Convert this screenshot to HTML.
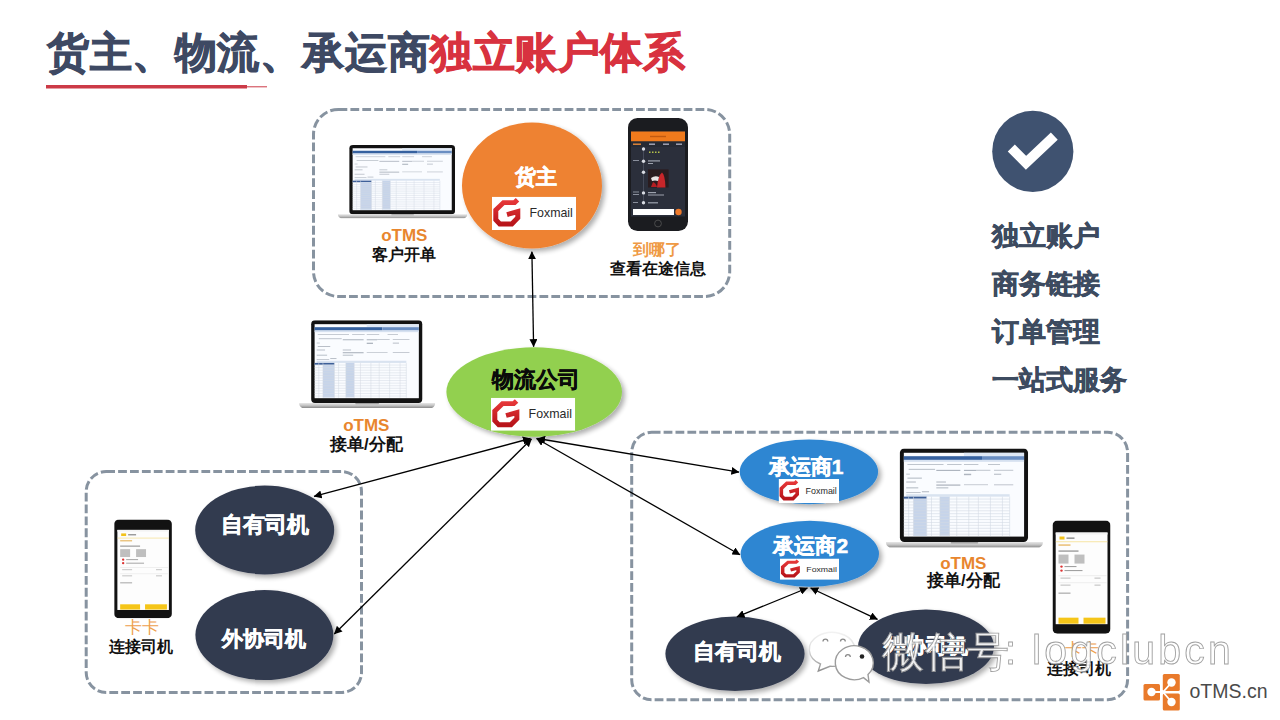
<!DOCTYPE html>
<html><head><meta charset="utf-8">
<style>
html,body{margin:0;padding:0;background:#fff;width:1280px;height:720px;overflow:hidden}
svg{position:absolute;left:0;top:0;font-family:"Liberation Sans",sans-serif}
</style></head><body>
<svg width="1280" height="720" viewBox="0 0 1280 720">
<defs>
  <filter id="sh" x="-20%" y="-20%" width="150%" height="150%">
    <feGaussianBlur in="SourceAlpha" stdDeviation="2.5"/>
    <feOffset dx="2.5" dy="3" result="b"/>
    <feComponentTransfer><feFuncA type="linear" slope="0.32"/></feComponentTransfer>
    <feMerge><feMergeNode/><feMergeNode in="SourceGraphic"/></feMerge>
  </filter>
  <marker id="ah" viewBox="0 0 10 10" refX="9.5" refY="5" markerWidth="8" markerHeight="8" markerUnits="userSpaceOnUse" orient="auto-start-reverse">
    <path d="M0,0 L10,5 L0,10 z" fill="#000"/>
  </marker>
  <linearGradient id="silver" x1="0" y1="0" x2="0" y2="1">
    <stop offset="0" stop-color="#e8e8e8"/><stop offset="0.5" stop-color="#c4c4c4"/><stop offset="1" stop-color="#8a8a8a"/>
  </linearGradient>
  <linearGradient id="gred" x1="0" y1="0" x2="0" y2="1">
    <stop offset="0" stop-color="#e8393a"/><stop offset="1" stop-color="#b8141a"/>
  </linearGradient>
  <!-- laptop symbol: viewBox 0 0 160 102 -->
  <symbol id="laptop" viewBox="0 0 160 102" preserveAspectRatio="none">
  <rect x="14.5" y="0" width="130" height="96" rx="4.5" fill="#121212"/>
  <rect x="18.5" y="4.5" width="122" height="86" fill="#fafcff"/>
  <rect x="79.5" y="4.5" width="61.0" height="3.5" fill="#dfe8f5"/>
  <rect x="18.5" y="8" width="79.3" height="3.8" fill="#36619f"/>
  <rect x="97.8" y="8" width="42.699999999999996" height="3.8" fill="#6a8ec2"/>
  <rect x="18.5" y="11.8" width="122" height="2" fill="#d6e1f0"/>
  <g fill="#aeb5bf"><rect x="22.16" y="16" width="36.6" height="0.8"/><rect x="62.42" y="16" width="14.64" height="0.8"/><rect x="79.5" y="16" width="14.64" height="0.8"/><rect x="103.9" y="16" width="12.2" height="0.8"/><rect x="23.38" y="21" width="26.84" height="0.9"/><rect x="51.44" y="22" width="24.4" height="1.2"/><rect x="79.5" y="22" width="12.2" height="1.2"/><rect x="91.7" y="22" width="14.64" height="0.8"/><rect x="110.0" y="22" width="19.52" height="0.8"/><rect x="20.94" y="26" width="3.66" height="0.8"/><rect x="79.5" y="26" width="7.32" height="1.5"/><rect x="110.0" y="26" width="7.32" height="1"/><rect x="22.16" y="30" width="14.64" height="1"/><rect x="20.94" y="34" width="9.76" height="1"/><rect x="51.44" y="34" width="9.76" height="1"/><rect x="51.44" y="37" width="24.4" height="1.3"/><rect x="79.5" y="37" width="24.4" height="0.7"/><rect x="110.0" y="37" width="19.52" height="0.8"/><rect x="20.94" y="40" width="12.2" height="1"/><rect x="51.44" y="40" width="12.2" height="1"/><rect x="20.94" y="45" width="14.64" height="0.8"/><rect x="36.8" y="44" width="7.32" height="1"/></g>
  <rect x="20.94" y="47" width="104.92" height="2.5" fill="#d9e3f0"/>
  <rect x="18.5" y="49.5" width="23.18" height="2.2" fill="#3d5f98"/>
  <rect x="28.26" y="51.7" width="13.42" height="38" fill="#c6d4ea"/>
  <rect x="55.1" y="49.5" width="9.76" height="40" fill="#c6d4ea"/>
  <path d="M18.5 52H125.86 M18.5 55H125.86 M18.5 58H125.86 M18.5 61H125.86 M18.5 64H125.86 M18.5 67H125.86 M18.5 70H125.86 M18.5 73H125.86 M18.5 76H125.86 M18.5 79H125.86 M18.5 82H125.86 M18.5 85H125.86 M18.5 88H125.86" stroke="#d3dae4" stroke-width="0.6"/>
  <path d="M23.38 49.5V90 M28.26 49.5V90 M41.68 49.5V90 M46.56 49.5V90 M55.1 49.5V90 M64.86 49.5V90 M72.18 49.5V90 M84.38 49.5V90 M94.14 49.5V90 M106.34 49.5V90 M118.54 49.5V90 M125.86 49.5V90" stroke="#d3dae4" stroke-width="0.6"/>
  <path d="M0.5 96 H159.5 Q160 99.5 156 101.8 H4 Q0 99.5 0.5 96z" fill="url(#silver)"/>
  <rect x="66" y="96" width="28" height="1.6" rx="0.8" fill="#a0a0a0"/>
  </symbol>
  <!-- foxmail box: 84 x 34 -->
  <symbol id="fox" viewBox="0 0 84 34" preserveAspectRatio="none">
    <rect x="0" y="0" width="84" height="34" fill="#fff"/>
    <path d="M25.5 3.2 L22.6 6 L11.5 6 L3.8 13.6 L3.8 23.5 L7.8 27.8 L19.8 27.8 L25.8 21.5 L25.8 15.2 L15 18.2" fill="none" stroke="url(#gred)" stroke-width="5" stroke-linejoin="miter" stroke-miterlimit="10"/>
    <text x="37.5" y="21.2" font-size="12.4" fill="#2a2a2a">Foxmail</text>
  </symbol>
  <!-- iphone -->
  <symbol id="iphone" viewBox="0 0 60 113" preserveAspectRatio="none">
    <rect x="0" y="0" width="60" height="113" rx="9.5" fill="#1b1c20"/>
    <rect x="3" y="13.5" width="54" height="85" fill="#2b2f3b"/>
    <rect x="3" y="13.5" width="54" height="10" fill="#f07a1c"/>
    <rect x="22" y="17.8" width="16" height="1.4" fill="#c25a10"/>
    <rect x="3" y="23.5" width="54" height="5.5" fill="#262a34"/>
    <rect x="5" y="25.5" width="8" height="1.4" fill="#e98a3a"/>
    <rect x="21" y="25.5" width="6" height="1.4" fill="#aab"/>
    <rect x="35" y="25.5" width="6" height="1.4" fill="#aab"/>
    <rect x="48" y="25.5" width="6" height="1.4" fill="#aab"/>
    <line x1="15.5" y1="29" x2="15.5" y2="86" stroke="#4a4f5e" stroke-width="0.9"/>
    <g fill="#d8dbe2"><circle cx="15.5" cy="31" r="1.7"/><circle cx="15.5" cy="43.3" r="1.7"/><circle cx="15.5" cy="54.2" r="1.7"/><circle cx="15.5" cy="74.9" r="1.7"/><circle cx="15.5" cy="84.8" r="1.7"/></g>
    <g fill="#8a8f9c"><rect x="5" y="42" width="6" height="1"/><rect x="5" y="73.5" width="6" height="1"/><rect x="5" y="76" width="6" height="1"/><rect x="5" y="84" width="5" height="1"/></g>
    <g fill="#9da2ae"><rect x="20" y="42.3" width="12" height="1.2"/><rect x="20" y="45" width="5" height="1"/><rect x="20" y="74" width="8" height="1.2"/><rect x="20" y="76.5" width="16" height="1"/><rect x="20" y="84.2" width="10" height="1.2"/></g>
    <g fill="#b6c44a"><rect x="21" y="33.5" width="1.5" height="1.5"/><rect x="24" y="33.5" width="1.5" height="1.5"/><rect x="27" y="33.5" width="1.5" height="1.5"/><rect x="30" y="33.5" width="1.5" height="1.5"/></g>
    <rect x="20" y="51.4" width="20.6" height="18.1" fill="#2a1c1f"/>
    <path d="M29 69.5 q1 -12 5 -15 q3 2 3.5 15z" fill="#c8262a"/>
    <path d="M23 60 q4 -3 8 -1 l-1 4 q-3 -1 -6 0z" fill="#e9e4e4"/>
    <path d="M25 64 q3 1 4 5 h-6z" fill="#b51e22"/>
    <rect x="5" y="91" width="41" height="6" fill="#fff"/>
    <circle cx="50.5" cy="94" r="3.2" fill="#ef7a2a"/>
    <circle cx="30" cy="105.5" r="3.4" fill="none" stroke="#555" stroke-width="0.8"/>
  </symbol>
  <!-- android yellow app phone viewBox 0 0 58 113 -->
  <symbol id="andr" viewBox="0 0 58 113" preserveAspectRatio="none">
    <rect x="0" y="0" width="58" height="113" rx="5" fill="#121212"/>
    <rect x="3.2" y="12" width="51.8" height="91.5" fill="#fdfdfd"/>
    <rect x="3.2" y="12" width="51.8" height="2" fill="#f4f4f4"/>
    <rect x="7" y="16" width="5" height="3" fill="#f2c21b"/>
    <rect x="14" y="17" width="8" height="1.2" fill="#777"/>
    <rect x="3.2" y="21" width="51.8" height="0.6" fill="#f3d56a"/>
    <rect x="6" y="24" width="12" height="1" fill="#e0a030"/>
    <rect x="6" y="30" width="20" height="1" fill="#777"/>
    <rect x="6" y="34" width="10" height="9" fill="#bfbfbf"/>
    <rect x="22" y="34" width="10" height="9" fill="#bfbfbf"/>
    <circle cx="9" cy="46" r="1.2" fill="#d33"/>
    <circle cx="9" cy="50" r="1.2" fill="#d33"/>
    <rect x="12" y="45.5" width="12" height="1" fill="#999"/>
    <rect x="12" y="49.5" width="18" height="1" fill="#999"/>
    <rect x="6" y="55" width="48" height="0.5" fill="#ddd"/>
    <rect x="6" y="62" width="48" height="0.5" fill="#ddd"/>
    <rect x="8" y="57" width="10" height="1" fill="#bbb"/><rect x="42" y="57" width="6" height="1" fill="#bbb"/>
    <rect x="8" y="64" width="10" height="1" fill="#bbb"/><rect x="42" y="64" width="6" height="1" fill="#bbb"/>
    <rect x="6" y="72" width="12" height="1" fill="#999"/>
    <rect x="6" y="97" width="20" height="6" fill="#f5c518"/>
    <rect x="31" y="97" width="22" height="6" fill="#f5c518"/>
  </symbol>
</defs>

<!-- Title -->
<text x="47" y="67" font-size="42.4" letter-spacing="0.57" font-weight="900" fill="#3e4963" stroke="#3e4963" stroke-width="0.9">货主、物流、承运商<tspan fill="#d8323f" stroke="#d8323f">独立账户体系</tspan></text>
<rect x="46" y="85" width="201" height="3.5" fill="#cc3a47"/>
<rect x="247" y="86.3" width="20" height="1" fill="#cc3a47"/>

<!-- dashed boxes -->
<g fill="none" stroke="#8793a0" stroke-width="3" stroke-dasharray="8.8 3.1">
  <rect x="313.5" y="109.4" width="416.2" height="187.1" rx="25" ry="25"/>
  <rect x="86.2" y="471.5" width="275.3" height="221" rx="20" ry="20"/>
  <rect x="631.7" y="432.3" width="495.9" height="267.5" rx="20" ry="20"/>
</g>

<!-- top box content -->
<use href="#laptop" x="337.6" y="145" width="130" height="73.5"/>
<text x="404.3" y="240.7" font-size="17" font-weight="700" fill="#e8862e" text-anchor="middle">oTMS</text>
<text x="404" y="259.5" font-size="16" font-weight="700" fill="#111" text-anchor="middle">客户开单</text>

<ellipse cx="532" cy="185.5" rx="70" ry="63" fill="#ee8233" filter="url(#sh)"/>
<text x="536" y="184" font-size="21" font-weight="900" fill="#fff" stroke="#fff" stroke-width="0.55" text-anchor="middle">货主</text>
<use href="#fox" x="492" y="196.7" width="84" height="33.3"/>

<use href="#iphone" x="628" y="118" width="60" height="113"/>
<text x="656.5" y="255" font-size="16" font-weight="700" fill="#ef9a45" text-anchor="middle">到哪了</text>
<text x="657.5" y="274" font-size="16" font-weight="700" fill="#111" text-anchor="middle">查看在途信息</text>

<!-- middle -->
<use href="#laptop" x="298.8" y="320.3" width="136.7" height="87.8"/>
<text x="366.3" y="430.7" font-size="17" font-weight="700" fill="#e8862e" text-anchor="middle">oTMS</text>
<text x="366.3" y="449.5" font-size="16.5" font-weight="700" fill="#111" text-anchor="middle">接单/分配</text>

<ellipse cx="534.2" cy="392" rx="87.8" ry="44.7" fill="#92d050" filter="url(#sh)"/>
<text x="535.8" y="387" font-size="21.8" font-weight="900" fill="#0a0a0a" stroke="#0a0a0a" stroke-width="0.4" text-anchor="middle">物流公司</text>
<use href="#fox" x="491" y="397.8" width="84.2" height="33"/>

<!-- right list -->
<circle cx="1032.8" cy="151.4" r="40.6" fill="#3f5270"/>
<path d="M1011.3 148 L1026 162.8 L1054.3 136.1" fill="none" stroke="#fff" stroke-width="10" stroke-linejoin="miter"/>
<g font-size="26.5" font-weight="900" fill="#3d4b60" stroke="#3d4b60" stroke-width="0.6">
  <text x="991.5" y="244.5">独立账户</text>
  <text x="991.5" y="292.5">商务链接</text>
  <text x="991.5" y="340.5">订单管理</text>
  <text x="991.5" y="388.5">一站式服务</text>
</g>

<!-- bottom-left box -->
<use href="#andr" x="114.2" y="519.4" width="57.7" height="98.9"/>
<text x="141.5" y="632.5" font-size="16.5" font-weight="500" fill="#eea04c" text-anchor="middle">卡卡</text>
<text x="140.5" y="651.5" font-size="16" font-weight="700" fill="#111" text-anchor="middle">连接司机</text>
<ellipse cx="264.7" cy="530" rx="69.5" ry="44.4" fill="#333b50" filter="url(#sh)"/>
<text x="264.7" y="532" font-size="21.5" font-weight="900" fill="#fff" stroke="#fff" stroke-width="0.55" text-anchor="middle">自有司机</text>
<ellipse cx="264.4" cy="635.1" rx="69" ry="45" fill="#333b50" filter="url(#sh)"/>
<text x="263.5" y="645.5" font-size="21" font-weight="900" fill="#fff" stroke="#fff" stroke-width="0.55" text-anchor="middle">外协司机</text>

<!-- bottom-right box -->
<ellipse cx="808.9" cy="471.8" rx="69.2" ry="32.4" fill="#2f86d2" filter="url(#sh)"/>
<text x="806" y="473.5" font-size="21" font-weight="900" fill="#fff" stroke="#fff" stroke-width="0.55" text-anchor="middle">承运商1</text>
<use href="#fox" x="778.6" y="479" width="60.5" height="24"/>
<ellipse cx="809.8" cy="553.8" rx="69.2" ry="33" fill="#2f86d2" filter="url(#sh)"/>
<text x="810.8" y="553" font-size="21" font-weight="900" fill="#fff" stroke="#fff" stroke-width="0.55" text-anchor="middle">承运商2</text>
<use href="#fox" x="780" y="558.5" width="59" height="21.3"/>

<use href="#laptop" x="885.6" y="448.4" width="157.7" height="99.4"/>
<text x="963.3" y="568.5" font-size="17" font-weight="700" fill="#e8862e" text-anchor="middle">oTMS</text>
<text x="963.3" y="586" font-size="16.5" font-weight="700" fill="#111" text-anchor="middle">接单/分配</text>

<use href="#andr" x="1052.5" y="520.5" width="58" height="113.2"/>
<text x="1082" y="655" font-size="16.5" font-weight="500" fill="#eea04c" text-anchor="middle">卡卡</text>
<text x="1078.7" y="673.5" font-size="16" font-weight="700" fill="#111" text-anchor="middle">连接司机</text>

<ellipse cx="735" cy="653.8" rx="69.6" ry="37.2" fill="#333b50" filter="url(#sh)"/>
<text x="736.5" y="658.5" font-size="21.5" font-weight="900" fill="#fff" stroke="#fff" stroke-width="0.55" text-anchor="middle">自有司机</text>
<ellipse cx="926" cy="646.8" rx="68" ry="37.3" fill="#333b50" filter="url(#sh)"/>
<text x="926" y="652.5" font-size="21" font-weight="900" fill="#fff" stroke="#fff" stroke-width="0.55" text-anchor="middle">外协司机</text>

<!-- arrows -->
<g stroke="#000" stroke-width="1.3" fill="none" marker-start="url(#ah)" marker-end="url(#ah)">
  <line x1="531.9" y1="251.7" x2="533.6" y2="346.7"/>
  <line x1="807.5" y1="588" x2="736.9" y2="616.9"/>
  <line x1="810.6" y1="588" x2="877.5" y2="619.4"/>
</g>
<g stroke="#000" stroke-width="1.3" fill="none" marker-end="url(#ah)" marker-start="url(#ah)">
  <line x1="530.5" y1="438.5" x2="314" y2="496.4"/>
  <line x1="531.5" y1="439" x2="334.3" y2="634"/>
  <line x1="537.5" y1="438.5" x2="739" y2="472.2"/>
  <line x1="536.5" y1="438.5" x2="740" y2="554.7"/>
</g>

<!-- watermark -->
<g>
  <linearGradient id="bub" x1="0" y1="0" x2="0" y2="1"><stop offset="0" stop-color="#f2f2f2"/><stop offset="0.45" stop-color="#dcdcdc"/><stop offset="1" stop-color="#8f8f8f"/></linearGradient>
  <path d="M820.5 664 A22.8 17 0 1 1 830 666.3 L818.3 671 Z" fill="#fff" stroke="url(#bub)" stroke-width="1.4"/>
  <g fill="#fff" stroke="#9c9c9c" stroke-width="1.4">
    <path d="M863.5 677.6 A19 17 0 1 1 868 674.5 L869 682 Z"/>
  </g>
  <g fill="none" stroke="#8a8a8a" stroke-width="1.3"><path d="M823 641.5 a2.4 2.4 0 0 1 4.8 0 M840.5 641.5 a2.4 2.4 0 0 1 4.8 0 M845.5 657 a2.4 2.4 0 0 1 4.8 0"/></g>
  <circle cx="862" cy="656.5" r="2.3" fill="#222"/>
<g font-weight="100" fill="#fff" stroke="#999" stroke-width="0.9" opacity="0.92"><text x="882" y="666" font-size="42" letter-spacing="0.5">微信号</text>
  <text x="1005" y="664" font-size="40">:</text>
  <text x="1032" y="664" font-size="41" letter-spacing="3.2">logclubcn</text></g>
</g>

<!-- otms logo -->
<g fill="#e97a2b">
  <rect x="1143.5" y="684" width="16.5" height="16.4" rx="1.5"/>
  <rect x="1162.8" y="674" width="17" height="17" rx="1.5"/>
  <rect x="1162.8" y="693.4" width="17" height="17" rx="1.5"/>
</g>
<g stroke="#fff" stroke-width="1.8" fill="none"><path d="M1151.5 692 L1163 692 L1171.5 682.5 M1163 692 L1171.5 702"/></g>
<g fill="#fff"><circle cx="1151.5" cy="692" r="4.2"/><circle cx="1171.5" cy="682.5" r="4.2"/><circle cx="1171.5" cy="702" r="4.2"/></g>
<text x="1189.5" y="698" font-size="19.5" fill="#4a4a4a">oTMS.cn</text>
</svg>
</body></html>
